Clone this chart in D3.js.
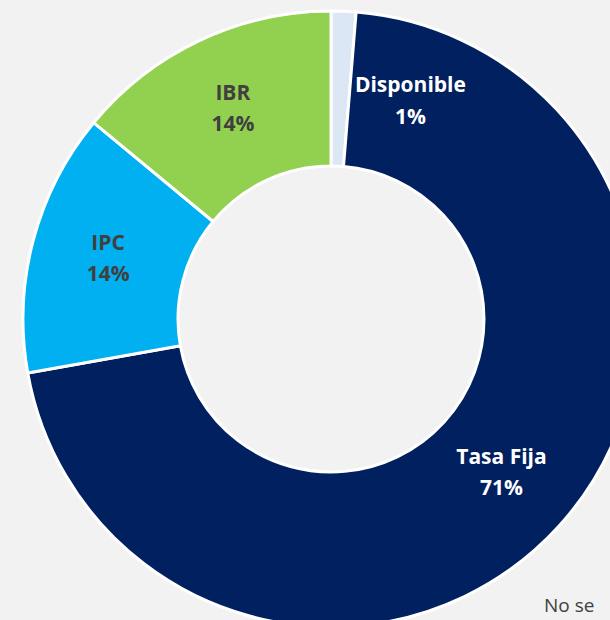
<!DOCTYPE html>
<html>
<head>
<meta charset="utf-8">
<script src="https://cdn.jsdelivr.net/npm/d3@7"></script>
<style>
  body { margin: 0; background: #f2f2f2; }
  svg { display: block; }
</style>
</head>
<body>
<script>
let categories = ["Disponible", "Tasa Fija", "IPC", "IBR"];
let values = [1.3, 70.9, 13.8, 14.0];
let colors = ["#dbe7f5", "#002060", "#00b0f0", "#92d050"];
let labelColors = ["#ffffff", "#ffffff", "#404040", "#404040"];

let width = 610;
let height = 620;
let cx = 331, cy = 319;
let outerR = 308, innerR = 153;

let svg = d3.select("body").append("svg").attr("width", width).attr("height", height);

let pie = d3.pie().sort(null).value((d) => d.value);
let arc = d3.arc().innerRadius(innerR).outerRadius(outerR);
let labelArc = d3.arc().innerRadius((innerR + outerR) / 2).outerRadius((innerR + outerR) / 2);

let data = categories.map((c, i) => ({name: c, value: values[i], color: colors[i], lc: labelColors[i]}));
let total = d3.sum(values);
let fmt = d3.format(".0%");

let g = svg.append("g").attr("transform", `translate(${cx},${cy})`);

g.selectAll("path").data(pie(data)).enter().append("path")
    .attr("d", arc)
    .attr("fill", (d) => d.data.color)
    .attr("stroke", "#ffffff")
    .attr("stroke-width", 3)
    .attr("stroke-linejoin", "round");

// Disponible label sits off to the right of its thin slice
let nudge = {"Disponible": [70, 14]};

let labels = g.selectAll("text.lbl").data(pie(data)).enter().append("text")
    .attr("class", "lbl")
    .attr("transform", (d) => {
        let p = labelArc.centroid(d);
        let o = nudge[d.data.name] || [0, 0];
        return `translate(${p[0] + o[0]},${p[1] + o[1]})`;
    })
    .attr("text-anchor", "middle")
    .attr("font-family", "Open Sans, sans-serif")
    .attr("font-weight", "bold")
    .attr("font-size", 21)
    .attr("fill", (d) => d.data.lc);

labels.append("tspan").attr("x", 0).attr("dy", "-0.5em").text((d) => d.data.name);
labels.append("tspan").attr("x", 0).attr("dy", "1.5em").text((d) => fmt(d.data.value / total));

svg.append("text")
    .attr("x", 544).attr("y", 612)
    .attr("font-family", "Open Sans, sans-serif")
    .attr("font-size", 19)
    .attr("fill", "#404040")
    .text("No se");
</script>
</body>
</html>
